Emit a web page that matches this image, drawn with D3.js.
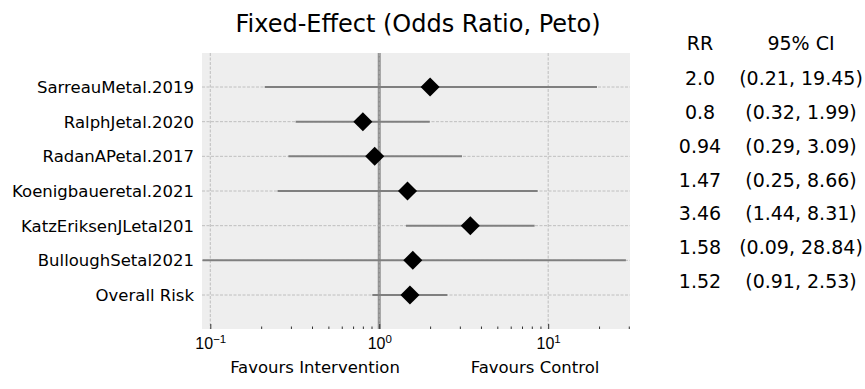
<!DOCTYPE html>
<meta charset="utf-8">
<head>
  <title>Forest plot</title>
</head>
<style>
  body { margin: 0; background: #fff; font-family: "DejaVu Sans", sans-serif; }
  .grid line { stroke: #b2b2b2; stroke-width: 0.8px; stroke-dasharray: 3,1.5; }
  .ci { stroke: #7f7f7f; stroke-width: 2px; }
  .axis path { display: none; }
  .axis line { stroke: #333; stroke-width: 1px; }
</style>
<body>
<svg width="865" height="389"></svg>
<script src="https://cdn.jsdelivr.net/npm/d3@7"></script>
<script>
  // study data, top to bottom
  var studies = ["SarreauMetal.2019", "RalphJetal.2020", "RadanAPetal.2017", "Koenigbaueretal.2021",
                 "KatzEriksenJLetal201", "BulloughSetal2021", "Overall Risk"];
  var rr    = [2.0, 0.8, 0.94, 1.47, 3.46, 1.58, 1.52];
  var lower = [0.21, 0.32, 0.29, 0.25, 1.44, 0.09, 0.91];
  var upper = [19.45, 1.99, 3.09, 8.66, 8.31, 28.84, 2.53];
  var rrText = ["2.0", "0.8", "0.94", "1.47", "3.46", "1.58", "1.52"];
  var ciText = ["(0.21, 19.45)", "(0.32, 1.99)", "(0.29, 3.09)", "(0.25, 8.66)",
                "(1.44, 8.31)", "(0.09, 28.84)", "(0.91, 2.53)"];
  var majorTicks = [0.1, 1, 10];
  var tickExp = ["\u22121", "0", "1"];

  var margin = {top: 53, left: 202, right: 235, bottom: 60};
  var width = 865 - margin.left - margin.right,
      height = 389 - margin.top - margin.bottom;

  var svg = d3.select("svg");
  var g = svg.append("g").attr("transform", "translate(" + margin.left + "," + margin.top + ")");

  var x = d3.scaleLog().domain([0.0893, 30.5]).range([0, width]);
  var y = d3.scalePoint().domain(studies).range([34, 242]);

  // background
  g.append("rect").attr("width", width).attr("height", height).attr("fill", "#eeeeee");

  // no-effect line
  g.append("line")
    .attr("x1", x(1)).attr("x2", x(1)).attr("y1", 0).attr("y2", height)
    .attr("stroke", "#8f8f8f").attr("stroke-width", 3);

  // grid
  var grid = g.append("g").attr("class", "grid");
  grid.selectAll(".h").data(studies).enter().append("line")
    .attr("x1", 0).attr("x2", width)
    .attr("y1", function(d) { return y(d); }).attr("y2", function(d) { return y(d); });
  grid.selectAll(".v").data(majorTicks).enter().append("line")
    .attr("x1", function(d) { return x(d); }).attr("x2", function(d) { return x(d); })
    .attr("y1", 0).attr("y2", height);

  // minor ticks
  var minors = [];
  [0.1, 1, 10].forEach(function(base) {
    for (var k = 2; k <= 9; k++) minors.push(base * k);
  });
  minors = minors.filter(function(v) { return v > x.domain()[0] && v < x.domain()[1]; });
  g.append("g").attr("class", "axis")
    .attr("transform", "translate(0," + height + ")")
    .call(d3.axisBottom(x).tickValues(minors).tickSize(-2.5).tickFormat(""));
  var ax = g.append("g").attr("class", "axis")
    .attr("transform", "translate(0," + height + ")")
    .call(d3.axisBottom(x).tickValues(majorTicks).tickSize(-5).tickFormat(""));
  ax.selectAll(".tick").append("text")
    .attr("y", 20).attr("fill", "#000").attr("text-anchor", "middle")
    .style("font-size", "16px")
    .each(function(d, i) {
      var t = d3.select(this);
      t.append("tspan").text("10");
      t.append("tspan").attr("dy", -6).style("font-size", "11.5px").text(tickExp[i]);
    });

  // CI lines
  g.selectAll(".ci").data(studies).enter().append("line")
    .attr("class", "ci")
    .attr("x1", function(d, i) { return x(lower[i]); })
    .attr("x2", function(d, i) { return x(upper[i]); })
    .attr("y1", function(d) { return y(d); })
    .attr("y2", function(d) { return y(d); });

  // markers
  g.selectAll(".pt").data(studies).enter().append("path")
    .attr("d", d3.symbol(d3.symbolSquare, 182))
    .attr("fill", "#000")
    .attr("transform", function(d, i) {
      return "translate(" + x(rr[i]) + "," + y(d) + ") rotate(45)";
    });

  // y labels
  g.selectAll(".lab").data(studies).enter().append("text")
    .attr("x", -8).attr("y", function(d) { return y(d) + 6; })
    .attr("text-anchor", "end").style("font-size", "16.5px")
    .text(function(d) { return d; });

  // title and x labels
  svg.append("text").attr("x", 418).attr("y", 32).attr("text-anchor", "middle")
    .style("font-size", "24px").text("Fixed-Effect (Odds Ratio, Peto)");
  svg.append("text").attr("x", 315).attr("y", 373).attr("text-anchor", "middle")
    .style("font-size", "16.5px").text("Favours Intervention");
  svg.append("text").attr("x", 535).attr("y", 373).attr("text-anchor", "middle")
    .style("font-size", "16.5px").text("Favours Control");

  // table on the right
  var rowY = d3.scalePoint().domain(studies).range([85, 288]);
  svg.append("text").attr("x", 700).attr("y", 50).attr("text-anchor", "middle")
    .style("font-size", "19px").text("RR");
  svg.append("text").attr("x", 801).attr("y", 50).attr("text-anchor", "middle")
    .style("font-size", "19px").text("95% CI");
  svg.selectAll(".rr").data(studies).enter().append("text")
    .attr("x", 700).attr("y", function(d) { return rowY(d); })
    .attr("text-anchor", "middle").style("font-size", "19px")
    .text(function(d, i) { return rrText[i]; });
  svg.selectAll(".cit").data(studies).enter().append("text")
    .attr("x", 801).attr("y", function(d) { return rowY(d); })
    .attr("text-anchor", "middle").style("font-size", "19px")
    .text(function(d, i) { return ciText[i]; });
</script>
</body>
</html>
